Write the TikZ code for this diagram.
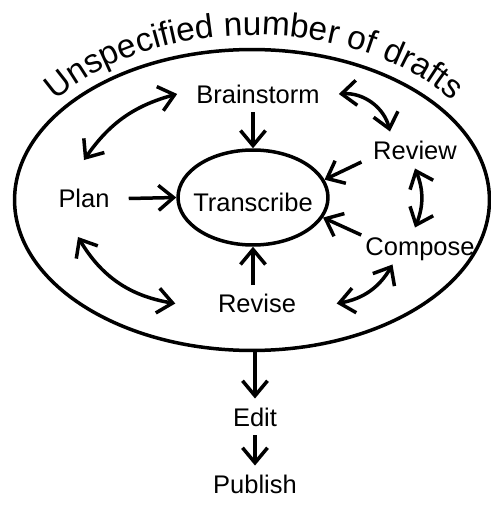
\documentclass[tikz,border=0pt]{standalone}
\usepackage{fontspec}
\setmainfont{Liberation Sans}
\usetikzlibrary{arrows.meta,shapes.geometric,decorations.text}

\tikzset{
  stagenode/.style={inner xsep=0.35cm, inner ysep=0.15cm, text height=0.37cm, text depth=0cm},
  loopellipse/.style={draw, ellipse, inner sep=0pt},
}

\begin{document}
\begin{tikzpicture}[x=0.02cm, y=0.02cm, line width=0.07cm,
  >={Straight Barb[length=0.3cm,width=0.5cm]},
  font=\fontsize{14.5}{17}\selectfont]
  \useasboundingbox (0,0) rectangle (491,512);
  % the big ellipse of the drafts
  \node[loopellipse, minimum width=9.5cm, minimum height=6.02cm] (drafts) at (252,312) {};
  % its caption, bent along the top
  \path[decorate, decoration={text along path, text align=center,
      text={|\fontsize{19}{22}\selectfont|Unspecified number of drafts}}]
    (254,312) ++(148:248 and 165) arc[start angle=148, end angle=32, x radius=248, y radius=165];
  % the small ellipse in the middle
  \node[loopellipse, minimum width=3cm, minimum height=1.9cm,
    label={[yshift=-0.1cm]center:Transcribe}] (transcribe) at (253,314.5) {};
  % the stages round it
  \node[stagenode] (brainstorm) at (258,418) {Brainstorm};
  \node[stagenode] (review) at (415,362) {Review};
  \node[stagenode] (plan) at (84,313.5) {Plan};
  \node[stagenode] (compose) at (420,266) {Compose};
  \node[stagenode] (revise) at (257,208.5) {Revise};
  % the stages after the drafts
  \node[stagenode] (edit) at (255,95) {Edit};
  \node[stagenode] (publish) at (255,28) {Publish};
  % arrows into Transcribe
  \draw[->] (plan.east) -- (transcribe.west);
  \draw[->] (transcribe.north |- brainstorm.south) -- (transcribe.north);
  \draw[->] (transcribe.south |- revise.north) -- (transcribe.south);
  \draw[->] ([shift={(0.15cm,0.13cm)}]review.south west) -- (transcribe.14);
  \draw[->] ([shift={(0.3cm,-0.15cm)}]compose.north west) -- (transcribe.-16);
  % two-way arrows between the stages
  \draw[<->] (brainstorm.west) to[bend right=20] ([yshift=0.4cm]plan.north);
  \draw[<->] (brainstorm.east) to[bend left=40] ([xshift=-0.5cm]review.north);
  \draw[<->] (review.south) to[bend left=22] ([xshift=-0.1cm]compose.north);
  \draw[<->] ([xshift=-0.55cm]compose.south) to[bend left=25] ([xshift=0.43cm]revise.east);
  \draw[<->] ([shift={(-0.12cm,-0.4cm)}]plan.south) to[bend right=25] ([xshift=-0.47cm]revise.west);
  % out of the drafts
  \draw[->] (edit.north |- drafts.south) -- (edit.north);
  \draw[->] (edit.south) -- (publish.north);
\end{tikzpicture}
\end{document}
